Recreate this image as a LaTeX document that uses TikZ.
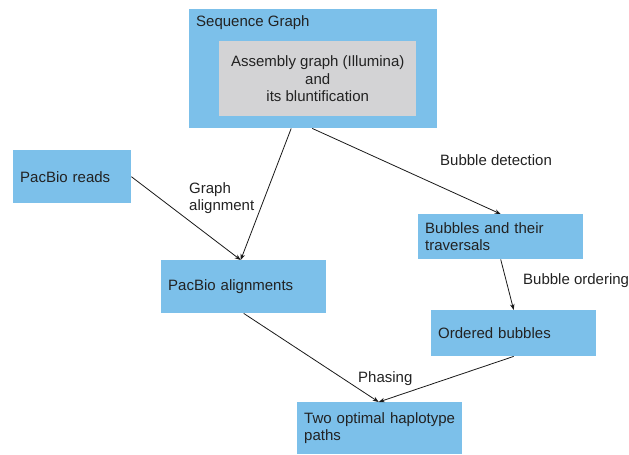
\documentclass[tikz,border=0pt]{standalone}
\usepackage{fontspec}
\setmainfont{Liberation Sans}
\usetikzlibrary{arrows.meta,positioning}
\definecolor{boxblue}{HTML}{7CC0EA}
\definecolor{boxgray}{HTML}{D3D3D5}
\definecolor{txt}{HTML}{222222}
\begin{document}
\begin{tikzpicture}[x=1pt,y=-1pt,
  every node/.style={font=\fontsize{15}{17.5}\selectfont, text=txt},
  bluebox/.style={fill=boxblue, draw=none, anchor=north west, inner sep=0pt},
  lbl/.style={anchor=base west, inner sep=0pt, align=left},
  conn/.style={draw=black!90, line width=0.8pt, -{Stealth[length=6pt,width=4.5pt]}}
]
\useasboundingbox (0,0) rectangle (629,455);
% outer sequence graph box
\node[bluebox, minimum width=248pt, minimum height=119pt] (sg) at (189,9) {};
\node[lbl] (sgt) at (196,27) {Sequence Graph};
\node[fill=boxgray, anchor=north west, inner sep=0pt, minimum width=197pt, minimum height=75pt, align=center] (asm) at (219,41) {Assembly graph (Illumina)\\and\\its bluntification};
% boxes
\node[bluebox, minimum width=118pt, minimum height=53pt, text width=104pt, inner xsep=7pt, align=left] (reads) at (13,150) {PacBio reads};
\node[bluebox, minimum width=165pt, minimum height=53pt, text width=151pt, inner xsep=7pt, align=left] (aln) at (161,260) {PacBio alignments};
\node[bluebox, minimum width=165pt, minimum height=45pt, text width=151pt, inner xsep=7pt, align=left] (bub) at (418,214) {Bubbles and their\\traversals};
\node[bluebox, minimum width=165pt, minimum height=46pt, text width=151pt, inner xsep=7pt, align=left] (ord) at (431,310) {Ordered bubbles};
\node[bluebox, minimum width=165pt, minimum height=52pt, text width=151pt, inner xsep=7pt, align=left] (two) at (297,402) {Two optimal haplotype\\paths};
% labels
\node[lbl] (lga) at (189,193) {Graph};
\node[lbl] (lgb) at (189,210) {alignment};
\node[lbl] (lbd) at (440,165) {Bubble detection};
\node[lbl] (lbo) at (523,284) {Bubble ordering};
\node[lbl] (lph) at (358,382) {Phasing};
% connectors
\draw[conn] ([xshift=-22pt]sg.south) -- ([xshift=-3pt]aln.north);
\draw[conn] ([xshift=-1pt]sg.south) -- (bub.north);
\draw[conn] (reads.east) -- ([xshift=-3pt]aln.north);
\draw[conn] (bub.south) -- (ord.north);
\draw[conn] (aln.south) -- ([xshift=-1pt]two.north);
\draw[conn] (ord.south) -- ([xshift=-1pt]two.north);
\end{tikzpicture}
\end{document}
